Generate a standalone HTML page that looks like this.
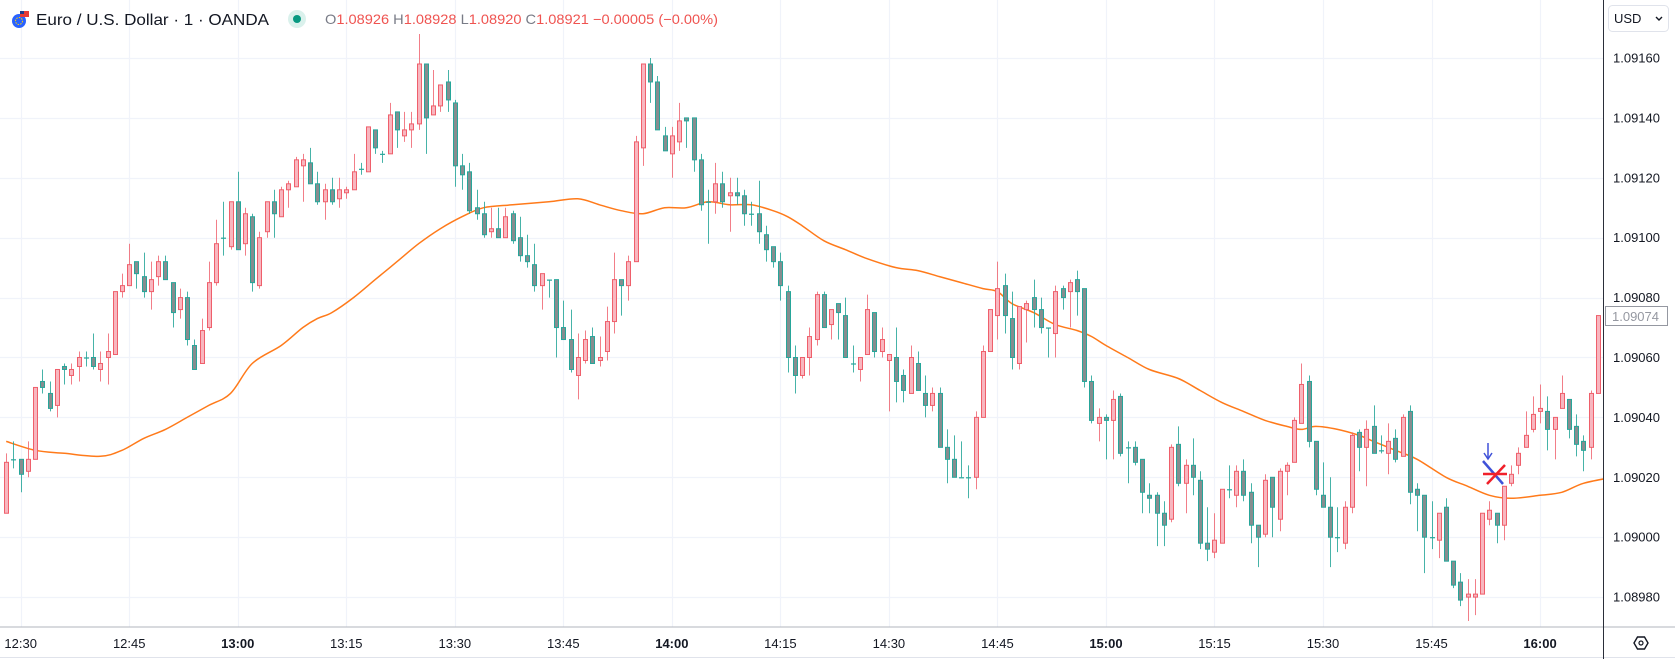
<!DOCTYPE html>
<html><head><meta charset="utf-8"><style>
html,body{margin:0;padding:0;background:#fff;}
svg{display:block;font-family:"Liberation Sans",sans-serif;}
</style></head><body>
<svg id="chart" width="1675" height="659" viewBox="0 0 1675 659" xmlns="http://www.w3.org/2000/svg">
<rect x="0" y="0" width="1675" height="659" fill="#ffffff"/>
<g id="grid"></g>
<g id="ma"></g>
<g id="candles"></g>
<g id="markers">
  <line x1="1488" y1="443" x2="1488" y2="458" stroke="#3f51d8" stroke-width="1.5"/>
  <polyline points="1484,453 1488,459 1492,453" fill="none" stroke="#3f51d8" stroke-width="1.5"/>
  <line x1="1483" y1="461" x2="1503" y2="484" stroke="#3f51d8" stroke-width="2.5"/>
  <line x1="1483" y1="474" x2="1507" y2="474" stroke="#f0202a" stroke-width="2.5"/>
  <line x1="1487" y1="484" x2="1505" y2="465" stroke="#f0202a" stroke-width="2.5"/>
</g>
<line x1="0" y1="627" x2="1675" y2="627" stroke="#b2b5be" stroke-width="1"/>
<line x1="0" y1="657.5" x2="1675" y2="657.5" stroke="#e0e3eb" stroke-width="1"/>
<line x1="1603.5" y1="0" x2="1603.5" y2="659" stroke="#2a2e39" stroke-width="1"/>
<g id="yticks"></g>
<g id="xticks"></g>
<g>
  <rect x="1605.5" y="306.5" width="62" height="19" fill="#fff" stroke="#9598a1" stroke-width="1"/>
  <text x="1612" y="321" font-size="13" fill="#9598a1">1.09074</text>
</g>
<g>
  <rect x="1608.5" y="5.5" width="60" height="26" rx="4" fill="#fff" stroke="#e0e3eb"/>
  <text x="1614" y="23" font-size="13" fill="#131722">USD</text>
  <polyline points="1656,17 1659,20 1662,17" fill="none" stroke="#131722" stroke-width="1.4"/>
</g>
<g>
  <polygon points="1634,643 1637.5,637 1644.5,637 1648,643 1644.5,649 1637.5,649" fill="none" stroke="#131722" stroke-width="1.4"/>
  <circle cx="1641" cy="643" r="2" fill="none" stroke="#131722" stroke-width="1.2"/>
</g>
<g>
  <circle cx="19" cy="21" r="7" fill="#2962ff"/>
  <rect x="20" y="11" width="9" height="6" fill="#e53935"/>
  <rect x="20" y="11" width="4" height="3" fill="#1e3a8a"/>
  <circle cx="19" cy="21" r="3.5" fill="none" stroke="#ffd600" stroke-width="1" stroke-dasharray="1.5 1.2"/>
  <text x="36" y="25" font-size="16" fill="#131722" textLength="233" lengthAdjust="spacingAndGlyphs">Euro / U.S. Dollar · 1 · OANDA</text>
  <circle cx="297" cy="19" r="9" fill="#daf1ec"/>
  <circle cx="297" cy="19" r="4" fill="#089981"/>
  <text x="325" y="24" font-size="14" fill="#ef5350" textLength="393" lengthAdjust="spacingAndGlyphs"><tspan fill="#787b86">O</tspan>1.08926 <tspan fill="#787b86">H</tspan>1.08928 <tspan fill="#787b86">L</tspan>1.08920 <tspan fill="#787b86">C</tspan>1.08921 −0.00005 (−0.00%)</text>
</g>
</svg>
<script>
const open = [1.09008,1.09026,1.09026,1.09022,1.09026,1.09052,1.09048,1.09044,1.09057,1.09054,1.09057,1.09060,1.09060,1.09056,1.09060,1.09061,1.09082,1.09084,1.09092,1.09087,1.09082,1.09087,1.09092,1.09085,1.09076,1.09080,1.09064,1.09058,1.09070,1.09085,1.09100,1.09097,1.09112,1.09098,1.09107,1.09084,1.09102,1.09112,1.09107,1.09116,1.09117,1.09124,1.09125,1.09118,1.09112,1.09116,1.09113,1.09115,1.09116,1.09123,1.09122,1.09136,1.09128,1.09128,1.09142,1.09134,1.09136,1.09138,1.09158,1.09141,1.09144,1.09152,1.09145,1.09124,1.09122,1.09110,1.09108,1.09102,1.09103,1.09100,1.09108,1.09100,1.09094,1.09091,1.09084,1.09086,1.09086,1.09070,1.09066,1.09054,1.09059,1.09067,1.09059,1.09062,1.09072,1.09086,1.09084,1.09092,1.09130,1.09158,1.09152,1.09134,1.09128,1.09132,1.09140,1.09140,1.09126,1.09112,1.09112,1.09118,1.09114,1.09115,1.09114,1.09108,1.09108,1.09101,1.09097,1.09092,1.09082,1.09060,1.09054,1.09060,1.09066,1.09081,1.09071,1.09078,1.09074,1.09058,1.09056,1.09061,1.09075,1.09062,1.09059,1.09060,1.09054,1.09048,1.09058,1.09048,1.09044,1.09048,1.09030,1.09026,1.09020,1.09020,1.09020,1.09040,1.09062,1.09074,1.09084,1.09073,1.09058,1.09076,1.09080,1.09076,1.09070,1.09068,1.09083,1.09082,1.09086,1.09083,1.09052,1.09038,1.09040,1.09039,1.09047,1.09030,1.09030,1.09026,1.09014,1.09014,1.09008,1.09006,1.09031,1.09018,1.09024,1.09019,1.08998,1.08995,1.08998,1.09016,1.09014,1.09022,1.09015,1.09004,1.09001,1.09020,1.09006,1.09022,1.09025,1.09038,1.09052,1.09032,1.09014,1.09010,1.09000,1.08998,1.09010,1.09035,1.09030,1.09037,1.09029,1.09028,1.09033,1.09027,1.09042,1.09016,1.09014,1.09000,1.08999,1.09010,1.08992,1.08985,1.08980,1.08980,1.08981,1.09006,1.09008,1.09004,1.09018,1.09024,1.09030,1.09036,1.09042,1.09042,1.09036,1.09043,1.09046,1.09037,1.09032,1.09030,1.09048];
const high = [1.09028,1.09032,1.09026,1.09032,1.09050,1.09056,1.09052,1.09056,1.09058,1.09058,1.09062,1.09062,1.09068,1.09062,1.09068,1.09082,1.09088,1.09098,1.09092,1.09095,1.09092,1.09094,1.09094,1.09085,1.09083,1.09082,1.09066,1.09073,1.09092,1.09106,1.09112,1.09112,1.09122,1.09110,1.09108,1.09102,1.09112,1.09116,1.09117,1.09119,1.09127,1.09128,1.09130,1.09122,1.09118,1.09120,1.09120,1.09117,1.09128,1.09125,1.09137,1.09136,1.09129,1.09145,1.09142,1.09142,1.09142,1.09168,1.09158,1.09156,1.09151,1.09156,1.09146,1.09128,1.09125,1.09116,1.09112,1.09110,1.09110,1.09110,1.09109,1.09107,1.09101,1.09098,1.09088,1.09086,1.09086,1.09079,1.09076,1.09068,1.09069,1.09070,1.09067,1.09077,1.09095,1.09086,1.09094,1.09134,1.09158,1.09160,1.09154,1.09137,1.09137,1.09145,1.09140,1.09140,1.09128,1.09116,1.09125,1.09122,1.09120,1.09120,1.09116,1.09112,1.09119,1.09104,1.09097,1.09095,1.09084,1.09064,1.09060,1.09070,1.09082,1.09082,1.09076,1.09078,1.09080,1.09064,1.09060,1.09081,1.09075,1.09070,1.09061,1.09070,1.09056,1.09064,1.09062,1.09054,1.09050,1.09050,1.09036,1.09034,1.09032,1.09024,1.09042,1.09064,1.09076,1.09092,1.09088,1.09082,1.09077,1.09079,1.09086,1.09080,1.09070,1.09084,1.09084,1.09086,1.09089,1.09083,1.09054,1.09043,1.09041,1.09049,1.09048,1.09032,1.09032,1.09026,1.09018,1.09015,1.09012,1.09031,1.09037,1.09026,1.09033,1.09022,1.09010,1.09008,1.09016,1.09024,1.09024,1.09026,1.09018,1.09004,1.09021,1.09020,1.09023,1.09025,1.09040,1.09058,1.09054,1.09032,1.09025,1.09020,1.09010,1.09012,1.09035,1.09036,1.09039,1.09044,1.09034,1.09038,1.09036,1.09041,1.09044,1.09018,1.09014,1.09012,1.09008,1.09013,1.08992,1.08988,1.08986,1.08986,1.09008,1.09012,1.09008,1.09017,1.09024,1.09030,1.09042,1.09047,1.09051,1.09047,1.09040,1.09054,1.09046,1.09041,1.09034,1.09049,1.09074];
const low = [1.09008,1.09023,1.09015,1.09020,1.09026,1.09048,1.09042,1.09040,1.09051,1.09051,1.09052,1.09057,1.09056,1.09052,1.09051,1.09061,1.09080,1.09084,1.09083,1.09080,1.09076,1.09084,1.09086,1.09070,1.09073,1.09064,1.09056,1.09058,1.09069,1.09084,1.09094,1.09096,1.09096,1.09094,1.09082,1.09083,1.09100,1.09100,1.09107,1.09110,1.09117,1.09112,1.09118,1.09111,1.09106,1.09111,1.09110,1.09113,1.09116,1.09121,1.09122,1.09128,1.09125,1.09128,1.09130,1.09132,1.09130,1.09136,1.09128,1.09141,1.09142,1.09142,1.09117,1.09116,1.09108,1.09106,1.09100,1.09100,1.09100,1.09100,1.09098,1.09092,1.09090,1.09082,1.09076,1.09080,1.09060,1.09066,1.09055,1.09046,1.09058,1.09058,1.09057,1.09059,1.09068,1.09074,1.09079,1.09092,1.09124,1.09145,1.09136,1.09129,1.09120,1.09129,1.09130,1.09122,1.09109,1.09098,1.09108,1.09110,1.09102,1.09111,1.09104,1.09104,1.09098,1.09092,1.09090,1.09079,1.09055,1.09048,1.09053,1.09054,1.09064,1.09070,1.09066,1.09066,1.09060,1.09055,1.09052,1.09061,1.09060,1.09060,1.09042,1.09045,1.09045,1.09048,1.09049,1.09040,1.09042,1.09030,1.09018,1.09020,1.09020,1.09013,1.09016,1.09040,1.09062,1.09066,1.09068,1.09056,1.09056,1.09065,1.09070,1.09068,1.09060,1.09060,1.09076,1.09070,1.09074,1.09050,1.09038,1.09032,1.09026,1.09026,1.09027,1.09018,1.09024,1.09008,1.09008,1.08997,1.08997,1.09005,1.09017,1.09008,1.09014,1.08996,1.08992,1.08993,1.08998,1.09013,1.09010,1.09012,1.08998,1.08990,1.09000,1.09000,1.09002,1.09014,1.09025,1.09038,1.09030,1.09014,1.09010,1.08990,1.08995,1.08996,1.09008,1.09022,1.09017,1.09028,1.09028,1.09021,1.09025,1.09027,1.09011,1.09002,1.08988,1.08996,1.08993,1.08992,1.08983,1.08977,1.08972,1.08974,1.08981,1.09004,1.08998,1.08999,1.09017,1.09021,1.09030,1.09035,1.09038,1.09029,1.09026,1.09043,1.09033,1.09027,1.09022,1.09026,1.09048];
const close = [1.09025,1.09026,1.09021,1.09026,1.09050,1.09050,1.09043,1.09056,1.09056,1.09056,1.09060,1.09060,1.09057,1.09058,1.09062,1.09082,1.09084,1.09091,1.09088,1.09082,1.09086,1.09092,1.09086,1.09075,1.09080,1.09066,1.09056,1.09069,1.09085,1.09098,1.09100,1.09112,1.09096,1.09108,1.09085,1.09100,1.09112,1.09108,1.09116,1.09118,1.09126,1.09126,1.09118,1.09112,1.09116,1.09112,1.09116,1.09116,1.09122,1.09123,1.09137,1.09130,1.09128,1.09141,1.09136,1.09136,1.09138,1.09158,1.09140,1.09144,1.09151,1.09146,1.09124,1.09121,1.09109,1.09108,1.09101,1.09103,1.09100,1.09107,1.09099,1.09094,1.09092,1.09084,1.09088,1.09086,1.09070,1.09066,1.09056,1.09060,1.09066,1.09058,1.09060,1.09072,1.09086,1.09084,1.09092,1.09132,1.09158,1.09152,1.09136,1.09129,1.09134,1.09139,1.09139,1.09126,1.09111,1.09112,1.09118,1.09112,1.09115,1.09114,1.09108,1.09108,1.09102,1.09096,1.09092,1.09084,1.09060,1.09054,1.09060,1.09067,1.09081,1.09070,1.09076,1.09075,1.09060,1.09058,1.09060,1.09076,1.09062,1.09066,1.09061,1.09052,1.09049,1.09060,1.09049,1.09044,1.09048,1.09030,1.09026,1.09020,1.09020,1.09020,1.09040,1.09062,1.09076,1.09083,1.09074,1.09060,1.09077,1.09078,1.09076,1.09070,1.09070,1.09082,1.09080,1.09085,1.09082,1.09052,1.09039,1.09040,1.09039,1.09046,1.09028,1.09030,1.09025,1.09015,1.09013,1.09008,1.09004,1.09030,1.09018,1.09024,1.09020,1.08998,1.08996,1.08999,1.09016,1.09016,1.09022,1.09014,1.09004,1.09000,1.09019,1.09010,1.09022,1.09024,1.09039,1.09051,1.09032,1.09016,1.09010,1.09000,1.09000,1.09010,1.09034,1.09030,1.09036,1.09028,1.09029,1.09032,1.09026,1.09040,1.09015,1.09014,1.09000,1.09000,1.09008,1.08992,1.08984,1.08979,1.08981,1.08981,1.09008,1.09009,1.09004,1.09017,1.09021,1.09028,1.09034,1.09041,1.09043,1.09036,1.09040,1.09048,1.09036,1.09031,1.09029,1.09048,1.09074];
const maBars = [0,4,8,13,16,19,22,25,28,31,34,38,41,43,45,48,51,54,57,60,63,66,70,75,79,82,85,88,91,94,97,100,103,106,108,110,113,116,119,123,126,129,132,135,137,139,142,145,148,150,152,155,158,162,165,168,171,174,177,179,181,184,187,189,192,195,199,202,205,208,212,215,218,222];
const maValues = [1.09032,1.09029,1.09028,1.09027,1.09029,1.09033,1.09036,1.09040,1.09044,1.09048,1.09058,1.09064,1.09070,1.09073,1.09075,1.09080,1.09086,1.09092,1.09098,1.09103,1.09107,1.09110,1.09111,1.09112,1.09113,1.09111,1.09109,1.09108,1.09110,1.09110,1.09112,1.09111,1.09111,1.09109,1.09107,1.09104,1.09099,1.09096,1.09093,1.09090,1.09089,1.09087,1.09085,1.09083,1.09082,1.09078,1.09075,1.09071,1.09069,1.09067,1.09064,1.09060,1.09056,1.09053,1.09049,1.09045,1.09042,1.09039,1.09037,1.09036,1.09037,1.09036,1.09034,1.09032,1.09029,1.09026,1.09020,1.09017,1.09014,1.09013,1.09014,1.09015,1.09018,1.09020];
const priceTicks = [1.09160,1.09140,1.09120,1.09100,1.09080,1.09060,1.09040,1.09020,1.09000,1.08980];
const timeTickBars = [3,18,33,48,63,78,93,108,123,138,153,168,183,198,213];
const timeTickLabels = ["12:30","12:45","13:00","13:15","13:30","13:45","14:00","14:15","14:30","14:45","15:00","15:15","15:30","15:45","16:00"];
const timeTickBold = [false,false,true,false,false,false,true,false,false,false,true,false,false,false,true];

const NS = "http://www.w3.org/2000/svg";
function xScale(bar){ return 20.7 + (bar - 3) * 7.235; }
function yScale(p){ return 58 + (1.0916 - p) / 0.0002 * 59.9; }
function mk(tag, attrs, parent){ const e=document.createElementNS(NS,tag); for(const k in attrs) e.setAttribute(k,attrs[k]); parent.appendChild(e); return e; }

const grid = document.getElementById('grid');
priceTicks.forEach(p=>{
  const l = mk('line',{x1:0,x2:1603,y1:Math.round(yScale(p))+0.5,y2:Math.round(yScale(p))+0.5,stroke:'#f0f3fa','stroke-width':1.2},grid);
  
  
});
timeTickBars.forEach(b=>{
  const x = Math.round(xScale(b))+0.5;
  const l = mk('line',{x1:x,x2:x,y1:0,y2:627,stroke:'#f0f3fa','stroke-width':1.2},grid);
  
  
});

const yt = document.getElementById('yticks');
priceTicks.forEach(p=>{
  const t = mk('text',{x:1613,y:yScale(p)+4.5,'font-size':13,fill:'#131722'},yt);
  t.textContent = p.toFixed(5);
  
  
});
const xt = document.getElementById('xticks');
timeTickBars.forEach((b,i)=>{
  const t = mk('text',{x:xScale(b),y:648,'font-size':13,fill:'#131722','text-anchor':'middle','font-weight':timeTickBold[i]?'bold':'normal'},xt);
  t.textContent = timeTickLabels[i];
  
  
});

const ma = document.getElementById('ma');
const P = maBars.map((b,i)=>[xScale(b+1), yScale(maValues[i])]);
let d = 'M' + P[0][0].toFixed(1) + ',' + P[0][1].toFixed(1);
for(let i=0;i<P.length-1;i++){
  const p0 = P[Math.max(i-1,0)], p1 = P[i], p2 = P[i+1], p3 = P[Math.min(i+2,P.length-1)];
  const c1x = p1[0] + (p2[0]-p0[0])/6, c1y = p1[1] + (p2[1]-p0[1])/6;
  const c2x = p2[0] - (p3[0]-p1[0])/6, c2y = p2[1] - (p3[1]-p1[1])/6;
  d += ' C' + c1x.toFixed(1)+','+c1y.toFixed(1)+' '+c2x.toFixed(1)+','+c2y.toFixed(1)+' '+p2[0].toFixed(1)+','+p2[1].toFixed(1);
}
const cp = mk('clipPath',{id:'plotclip'},ma);
mk('rect',{x:0,y:0,width:1603,height:627},cp);
const pl = mk('path',{d:d,fill:'none',stroke:'#ff7a1a','stroke-width':1.5,'clip-path':'url(#plotclip)'},ma);



const cg = document.getElementById('candles');
for(let i=0;i<open.length;i++){
  const bar = i+1;
  const x = Math.round(xScale(bar));
  const up = close[i] > open[i];
  const stroke = up ? '#ef5f6b' : '#26a69a';
  const fill = up ? '#f8b6bf' : '#868d8f';
  const g = mk('g',{},cg);
  
  
  mk('line',{x1:x+0.5,x2:x+0.5,y1:yScale(high[i]),y2:yScale(low[i]),stroke:stroke,'stroke-width':1,opacity:up?0.8:0.85},g);
  const top = yScale(Math.max(open[i],close[i]));
  const bot = yScale(Math.min(open[i],close[i]));
  const h = Math.max(bot-top,1);
  if(bot-top < 1.5){
    mk('line',{x1:x-2,x2:x+3,y1:top+0.5,y2:top+0.5,stroke:stroke,'stroke-width':1.2},g);
  } else {
    mk('rect',{x:x-1.5,y:top,width:4,height:h,fill:fill,stroke:stroke,'stroke-width':1},g);
  }
}
</script>
</body></html>
